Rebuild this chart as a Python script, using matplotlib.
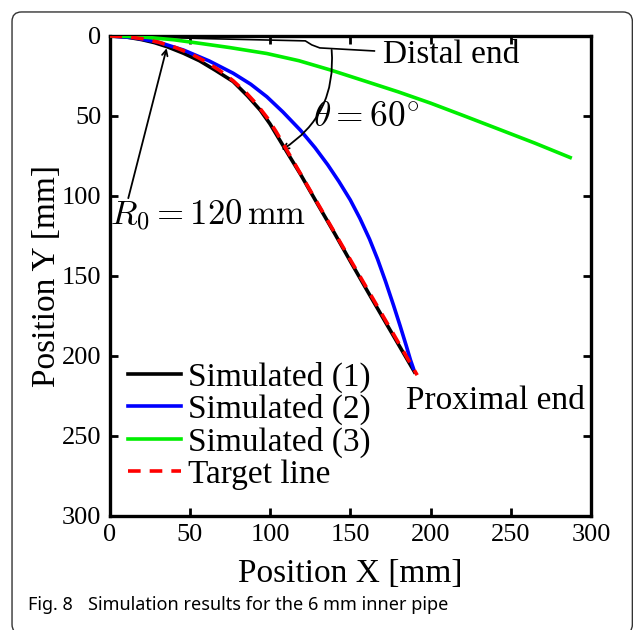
import matplotlib
matplotlib.use("Agg")
import matplotlib.pyplot as plt
from matplotlib.patches import FancyBboxPatch

plt.rcParams['font.family'] = ['Liberation Serif', 'DejaVu Serif']
plt.rcParams['mathtext.fontset'] = 'cm'

# Simulated (1) - black
sim1_x = [0, 10, 20, 28, 36, 46, 56, 66, 77, 86, 94, 100, 106, 112, 119, 129, 140, 151, 161, 172, 181, 190]
sim1_y = [0, 0.6, 2.3, 4.2, 6.8, 10.8, 15.5, 21.5, 28.5, 37.5, 46.5, 55, 65, 75, 86.5, 104, 123, 142.5, 160, 179, 194.5, 210]

# Simulated (2) - blue
sim2_x = [0, 15, 30, 46, 62, 77, 88, 98, 108, 119, 128, 136, 143, 150, 156, 162, 167, 172, 177, 181, 185, 187.5, 189.3]
sim2_y = [0, 1.1, 3.8, 8.8, 15.6, 23.3, 30.2, 38, 47.5, 59, 69.8, 80.6, 91.1, 102.5, 114, 127, 139.5, 153.5, 168.5, 181, 194, 202.5, 207.7]

# Simulated (3) - green
sim3_x = [0, 20, 40, 56, 75, 98, 118, 138, 160, 180, 200, 220, 241, 265, 287]
sim3_y = [0, 0.6, 2.4, 4.6, 7.3, 11, 15.5, 21.4, 28.5, 35, 42, 49.6, 57.7, 67, 76]

# Target line - red dashed
target_x = [0, 10.5, 20.8, 31.1, 41.0, 50.7, 60.0, 68.8, 77.1, 84.8, 91.9, 98.3, 103.9, 125, 150, 175, 191.7]
target_y = [0, 0.5, 1.8, 4.1, 7.2, 11.2, 16.1, 21.7, 28.1, 35.2, 42.9, 51.2, 60.0, 96.5, 139.8, 183, 212]

# leader line to the "Distal end" label
distal_x = [0, 56, 122, 126, 131, 165]
distal_y = [0, 1.6, 3.1, 5.6, 7.5, 9.4]

fig = plt.figure(figsize=(6.33, 6.30), dpi=100)
ax = fig.add_axes([0.173, 0.181, 0.7607, 0.762])

ax.plot(sim1_x, sim1_y, color='black', lw=2.6, label='Simulated (1)', zorder=3)
ax.plot(sim2_x, sim2_y, color='#0000ff', lw=2.6, label='Simulated (2)', zorder=3)
ax.plot(sim3_x, sim3_y, color='#00ee00', lw=2.6, label='Simulated (3)', zorder=3)
ax.plot(target_x, target_y, color='#ff0000', lw=2.6, ls=(0, (3.5, 2.5)), label='Target line', zorder=4)
ax.plot(distal_x, distal_y, color='black', lw=1.2, zorder=2)

ax.set_xlim(0, 300)
ax.set_ylim(300, 0)
ax.set_xticks([0, 50, 100, 150, 200, 250, 300])
ax.set_yticks([0, 50, 100, 150, 200, 250, 300])
ax.tick_params(direction='in', length=6, width=2, top=True, right=True, labelsize=19, pad=6)
for s in ax.spines.values():
    s.set_linewidth(2.4)

ax.set_xlabel('Position X [mm]', fontsize=24, labelpad=9)
ax.set_ylabel('Position Y [mm]', fontsize=24, labelpad=0)

# annotations
ax.text(170.5, 12, 'Distal end', fontsize=24, ha='left', va='center')
ax.text(185, 228, 'Proximal end', fontsize=24, ha='left', va='center')
ax.text(127, 51, r'$\theta = 60^{\circ}$', fontsize=25.5, ha='left', va='center')
ax.text(0.2, 112, r'$R_0 = 120\,\mathrm{mm}$', fontsize=25, ha='left', va='center')
ax.annotate('', xy=(107.3, 71.3), xytext=(138.4, 8.75),
            arrowprops=dict(arrowstyle='->', color='black', lw=1.3,
                            connectionstyle='arc3,rad=-0.3', shrinkA=0, shrinkB=0))
ax.annotate('', xy=(35.6, 7.7), xytext=(11.7, 101.4),
            arrowprops=dict(arrowstyle='->', color='black', lw=1.3, shrinkA=0, shrinkB=0))

ax.legend(loc='upper left', bbox_to_anchor=(0.038, 0.322), frameon=False, fontsize=24,
          handlelength=1.6, handletextpad=0.22, labelspacing=0.04, borderpad=0, borderaxespad=0)

# caption and frame
fig.text(0.044, 0.04, 'Fig. 8', fontsize=13, fontweight='bold', family='Noto Sans', va='center')
fig.text(0.139, 0.04, 'Simulation results for the 6 mm inner pipe', fontsize=13,
         family='Noto Sans', va='center')
frame = FancyBboxPatch((0.019, -0.006), 0.98, 0.987, boxstyle='round,pad=0,rounding_size=0.015',
                       transform=fig.transFigure, fill=False, edgecolor='#333333', lw=1)
fig.patches.append(frame)

fig.savefig('out.png', dpi=100)
